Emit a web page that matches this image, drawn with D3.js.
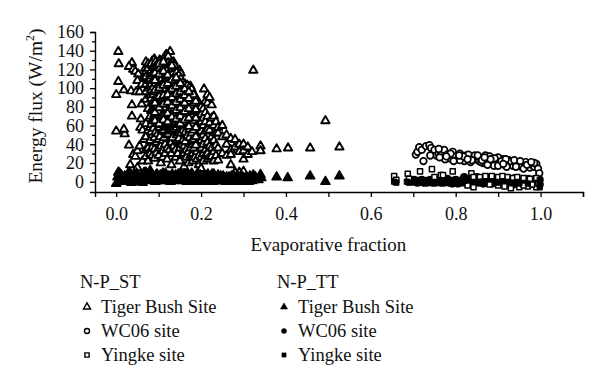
<!DOCTYPE html>
<html>
<head>
<meta charset="utf-8">
<script src="https://cdn.jsdelivr.net/npm/d3@7"></script>
<style>
  html, body { margin: 0; padding: 0; background: #fff; }
  svg { display: block; }
  text { font-family: "Liberation Serif", "Times New Roman", serif; fill: #111; }
</style>
</head>
<body>
<svg id="chart" width="600" height="391"></svg>
<script>
// ---------------- DATA ----------------
const xTicks = [0, 0.2, 0.4, 0.6, 0.8, 1.0];
const xMinorTicks = [0.1, 0.3, 0.5, 0.7, 0.9, 1.1];
const yTicks = [0, 20, 40, 60, 80, 100, 120, 140, 160];
const yMinorTicks = [10, 30, 50, 70, 90, 110, 130, 150];

// N-P_ST, Tiger Bush Site (open triangles) [evaporative fraction, flux]
const tigerBushST = [
[0.005,139],[0.006,126],[0.005,107],[0.000,93],[0.018,98],[0.000,54],[0.020,51],[0.018,56],[0.030,39],[0.033,18],
[0.035,97],[0.047,96],[0.037,127],[0.030,123],[0.040,120],[0.037,82],[0.037,70],[0.055,96],[0.060,83],[0.058,67],
[0.057,58],[0.040,29],[0.045,27],[0.050,33],[0.055,38],[0.065,45],[0.062,55],[0.045,118],[0.052,115],[0.050,108],
[0.060,104],[0.065,111],[0.068,121],[0.070,128],[0.075,126],[0.080,124],[0.085,129],[0.090,131],[0.095,127],[0.100,122],
[0.105,128],[0.110,125],[0.115,134],[0.118,136],[0.127,139],[0.120,130],[0.125,122],[0.130,118],[0.135,128],[0.140,121],
[0.149,119],[0.152,116],[0.145,110],[0.050,15],[0.062,22],[0.066,10],
[0.070,118],[0.070,112],[0.070,104],[0.070,96],[0.070,88],[0.070,62],[0.070,48],[0.070,34],[0.070,27],
[0.075,121],[0.075,108],[0.075,100],[0.075,78],[0.075,55],[0.075,36],[0.075,22],
[0.080,115],[0.080,110],[0.080,102],[0.080,92],[0.080,70],[0.080,58],[0.080,44],[0.080,30],[0.080,12],
[0.085,124],[0.085,117],[0.085,106],[0.085,96],[0.085,84],[0.085,65],[0.085,50],[0.085,37],[0.085,28],
[0.090,120],[0.090,112],[0.090,100],[0.090,90],[0.090,80],[0.090,72],[0.090,60],[0.090,47],[0.090,35],[0.090,25],
[0.095,126],[0.095,114],[0.095,108],[0.095,95],[0.095,86],[0.095,76],[0.095,66],[0.095,42],[0.095,31],
[0.100,118],[0.100,110],[0.100,104],[0.100,98],[0.100,88],[0.100,82],[0.100,70],[0.100,55],[0.100,45],[0.100,36],[0.100,28],
[0.105,124],[0.105,115],[0.105,106],[0.105,92],[0.105,78],[0.105,64],[0.105,50],[0.105,38],[0.105,20],
[0.110,120],[0.110,113],[0.110,100],[0.110,94],[0.110,86],[0.110,74],[0.110,68],[0.110,58],[0.110,44],[0.110,33],[0.110,26],
[0.115,128],[0.115,110],[0.115,104],[0.115,96],[0.115,82],[0.115,76],[0.115,62],[0.115,52],[0.115,40],[0.115,30],
[0.120,125],[0.120,118],[0.120,108],[0.120,98],[0.120,90],[0.120,80],[0.120,70],[0.120,56],[0.120,46],[0.120,36],[0.120,24],
[0.125,131],[0.125,114],[0.125,102],[0.125,94],[0.125,86],[0.125,72],[0.125,64],[0.125,48],[0.125,34],
[0.130,122],[0.130,112],[0.130,106],[0.130,96],[0.130,88],[0.130,78],[0.130,66],[0.130,58],[0.130,42],[0.130,30],[0.130,18],
[0.135,116],[0.135,108],[0.135,100],[0.135,92],[0.135,84],[0.135,74],[0.135,60],[0.135,52],[0.135,38],
[0.140,114],[0.140,104],[0.140,98],[0.140,88],[0.140,80],[0.140,70],[0.140,62],[0.140,46],[0.140,34],[0.140,26],
[0.145,112],[0.145,102],[0.145,94],[0.145,86],[0.145,76],[0.145,66],[0.145,54],[0.145,42],[0.145,30],
[0.150,108],[0.150,98],[0.150,90],[0.150,82],[0.150,74],[0.150,64],[0.150,56],[0.150,44],[0.150,36],[0.150,22],
[0.155,104],[0.155,96],[0.155,88],[0.155,80],[0.155,70],[0.155,60],[0.155,50],[0.155,40],[0.155,28],
[0.160,102],[0.160,94],[0.160,86],[0.160,78],[0.160,68],[0.160,58],[0.160,48],[0.160,38],[0.160,30],[0.160,16],
[0.165,100],[0.165,90],[0.165,82],[0.165,74],[0.165,64],[0.165,54],[0.165,44],[0.165,34],[0.165,26],
[0.170,98],[0.170,88],[0.170,80],[0.170,70],[0.170,62],[0.170,52],[0.170,42],[0.170,32],[0.170,20],
[0.175,102],[0.175,92],[0.175,84],[0.175,76],[0.175,66],[0.175,56],[0.175,46],[0.175,36],[0.175,28],
[0.180,96],[0.180,86],[0.180,78],[0.180,68],[0.180,58],[0.180,48],[0.180,40],[0.180,30],[0.180,22],
[0.185,90],[0.185,82],[0.185,72],[0.185,62],[0.185,54],[0.185,44],[0.185,34],[0.185,26],
[0.190,88],[0.190,80],[0.190,70],[0.190,60],[0.190,50],[0.190,42],[0.190,32],[0.190,24],
[0.195,84],[0.195,76],[0.195,66],[0.195,56],[0.195,46],[0.195,38],[0.195,28],[0.195,18],
[0.200,80],[0.200,72],[0.200,64],[0.200,54],[0.200,44],[0.200,36],[0.200,26],[0.200,14],
[0.205,78],[0.205,68],[0.205,60],[0.205,50],[0.205,40],[0.205,30],[0.205,22],
[0.207,99],[0.210,86],[0.210,74],[0.210,64],[0.210,54],[0.210,46],[0.210,34],[0.210,28],
[0.215,93],[0.215,84],[0.215,70],[0.215,56],[0.215,42],[0.215,30],[0.215,24],
[0.220,90],[0.220,63],[0.220,55],[0.220,38],[0.220,26],
[0.225,82],[0.225,68],[0.225,48],[0.225,36],[0.225,27],
[0.230,70],[0.230,60],[0.230,44],[0.230,32],[0.230,22],
[0.235,64],[0.235,52],[0.235,39],[0.235,28],
[0.240,58],[0.240,52],[0.240,36],[0.240,23],
[0.250,60],[0.250,48],[0.250,30],
[0.260,50],[0.260,40],[0.260,28],
[0.270,46],[0.270,34],[0.270,29],[0.270,18],
[0.280,45],[0.280,37],[0.280,10],
[0.290,40],[0.290,32],[0.290,10],
[0.300,40],[0.300,33],[0.300,24],[0.300,11],
[0.310,37],[0.310,29],[0.320,32],[0.323,119],
[0.340,38],[0.340,33],[0.378,35],[0.405,36],[0.457,36],[0.493,65],[0.526,37],
// dense core
[0.0825,126],[0.0825,119],[0.0825,113],[0.0825,104],[0.0825,98],[0.0825,89],[0.0825,76],[0.0825,61],[0.0825,53],
[0.0875,122],[0.0875,115],[0.0875,108],[0.0875,101],[0.0875,93],[0.0875,86],[0.0875,77],[0.0875,68],[0.0875,57],
[0.0925,128],[0.0925,123],[0.0925,117],[0.0925,105],[0.0925,96],[0.0925,87],[0.0925,78],[0.0925,69],[0.0925,62],[0.0925,53],
[0.0975,124],[0.0975,119],[0.0975,111],[0.0975,101],[0.0975,92],[0.0975,84],[0.0975,73],[0.0975,63],[0.0975,51],
[0.1025,130],[0.1025,121],[0.1025,112],[0.1025,107],[0.1025,96],[0.1025,85],[0.1025,75],[0.1025,67],[0.1025,58],[0.1025,48],
[0.1075,127],[0.1075,118],[0.1075,110],[0.1075,102],[0.1075,96],[0.1075,88],[0.1075,81],[0.1075,71],[0.1075,61],[0.1075,54],
[0.1125,132],[0.1125,123],[0.1125,116],[0.1125,107],[0.1125,99],[0.1125,90],[0.1125,79],[0.1125,71],[0.1125,63],[0.1125,55],[0.1125,47],
[0.1175,130],[0.1175,121],[0.1175,113],[0.1175,106],[0.1175,93],[0.1175,86],[0.1175,79],[0.1175,66],[0.1175,58],[0.1175,50],
[0.1225,134],[0.1225,127],[0.1225,121],[0.1225,111],[0.1225,103],[0.1225,95],[0.1225,84],[0.1225,75],[0.1225,67],[0.1225,60],[0.1225,51],
[0.1275,126],[0.1275,118],[0.1275,110],[0.1275,99],[0.1275,91],[0.1275,82],[0.1275,76],[0.1275,69],[0.1275,61],[0.1275,54],
[0.1325,127],[0.1325,119],[0.1325,115],[0.1325,102],[0.1325,93],[0.1325,84],[0.1325,73],[0.1325,63],[0.1325,55],[0.1325,47],
[0.1375,124],[0.1375,112],[0.1375,104],[0.1375,96],[0.1375,88],[0.1375,78],[0.1375,70],[0.1375,64],[0.1375,56],
[0.1425,117],[0.1425,108],[0.1425,100],[0.1425,91],[0.1425,83],[0.1425,73],[0.1425,66],[0.1425,58],[0.1425,50],
[0.1475,114],[0.1475,106],[0.1475,97],[0.1475,89],[0.1475,80],[0.1475,70],[0.1475,61],[0.1475,52],[0.1475,46],
[0.1525,110],[0.1525,102],[0.1525,94],[0.1525,86],[0.1525,78],[0.1525,68],[0.1525,60],[0.1525,52],
[0.1575,106],[0.1575,98],[0.1575,90],[0.1575,83],[0.1575,73],[0.1575,64],[0.1575,55],[0.1575,45],
[0.1625,104],[0.1625,97],[0.1625,90],[0.1625,81],[0.1625,72],[0.1625,62],[0.1625,53],[0.1625,43],
[0.1675,103],[0.1675,94],[0.1675,86],[0.1675,77],[0.1675,68],[0.1675,59],[0.1675,49],
[0.1725,101],[0.1725,92],[0.1725,84],[0.1725,74],[0.1725,65],[0.1725,56],[0.1725,47],
[0.1775,99],[0.1775,89],[0.1775,81],[0.1775,72],[0.1775,62],[0.1775,52],[0.1775,43],
[0.1825,93],[0.1825,84],[0.1825,75],[0.1825,65],[0.1825,55],[0.1825,45],[0.1825,36],
[0.1875,86],[0.1875,77],[0.1875,68],[0.1875,58],[0.1875,48],[0.1875,39],
[0.0912,116],[0.0912,108],[0.0912,98],[0.0912,84],[0.0912,74],[0.0912,65],
[0.1012,126],[0.1012,115],[0.1012,100],[0.1012,91],[0.1012,79],[0.1012,62],
[0.1112,128],[0.1112,118],[0.1112,103],[0.1112,92],[0.1112,83],[0.1112,66],
[0.1212,114],[0.1212,105],[0.1212,93],[0.1212,85],[0.1212,73],[0.1212,64],
[0.1312,124],[0.1312,109],[0.1312,99],[0.1312,90],[0.1312,81],[0.1312,69],
[0.1412,111],[0.1412,102],[0.1412,94],[0.1412,85],[0.1412,76],[0.1412,67],
[0.1512,105],[0.1512,96],[0.1512,88],[0.1512,79],[0.1512,70],[0.1512,62],
[0.1612,99],[0.1612,92],[0.1612,84],[0.1612,75],[0.1612,66],
[0.1712,96],[0.1712,89],[0.1712,78],[0.1712,68],[0.1712,59]
];

// N-P_TT, Tiger Bush Site (filled triangles)
const tigerBushTT = [
[0.000,-2],[0.003,5],[0.008,9],[0.012,7],[0.015,3],[0.020,6],[0.025,1],[0.028,8],[0.032,4],[0.036,-1],
[0.040,6],[0.044,2],[0.048,9],[0.052,5],[0.055,0],[0.060,7],[0.064,3],[0.068,8],[0.072,1],[0.076,5],
[0.080,9],[0.084,2],[0.088,6],[0.092,0],[0.096,8],[0.100,4],[0.104,7],[0.108,1],[0.112,5],[0.116,9],
[0.120,3],[0.124,6],[0.128,0],[0.132,8],[0.136,4],[0.140,7],[0.144,2],[0.148,5],[0.152,9],[0.156,1],
[0.160,6],[0.164,3],[0.168,8],[0.172,0],[0.176,5],[0.180,7],[0.184,2],[0.188,6],[0.192,9],[0.196,3],
[0.200,5],[0.204,1],[0.208,7],[0.212,4],[0.216,8],[0.220,2],[0.224,6],[0.228,0],[0.232,5],[0.236,3],
[0.240,7],[0.244,1],[0.248,4],[0.252,6],[0.256,2],[0.260,5],[0.264,0],[0.268,3],[0.272,6],[0.276,1],
[0.280,4],[0.284,2],[0.288,5],[0.292,0],[0.296,3],[0.300,1],[0.305,4],[0.310,2],[0.315,6],[0.320,1],
[0.323,7],[0.330,3],[0.340,7.5],[0.342,4],[0.378,5],[0.404,4],[0.457,6],[0.493,0],[0.526,6],
[0.005,10],[0.010,2],[0.018,0],[0.030,10],[0.046,5],[0.058,3],[0.070,10],[0.086,4],[0.098,1],[0.110,9],
[0.126,3],[0.138,1],[0.150,3],[0.166,0],[0.178,9],[0.190,2],[0.206,4],[0.218,0],[0.230,8],[0.246,6],
[0.258,0],[0.270,2],[0.286,0],[0.298,5],[0.312,0],[0.325,2],
[0.022,4],[0.034,8],[0.042,1],[0.050,7],[0.062,-1],[0.066,5],[0.074,3],[0.082,6],[0.090,3],[0.094,7],
[0.102,2],[0.106,5],[0.114,2],[0.118,7],[0.122,1],[0.130,5],[0.134,2],[0.142,4],[0.146,8],[0.154,6],
[0.158,3],[0.162,8],[0.170,4],[0.174,7],[0.182,4],[0.186,0],[0.194,5],[0.198,7],[0.202,3],[0.210,0],
[0.214,6],[0.222,4],[0.226,8],[0.234,1],[0.238,5],[0.242,3],[0.250,1],[0.254,4],[0.262,3],[0.266,5],
[0.274,3],[0.278,6],[0.282,1],[0.290,3],[0.294,6],[0.302,3],[0.308,1],[0.318,3],[0.328,5],[0.335,2]
];

// N-P_ST, WC06 site (open circles)
const wc06ST = [
[0.706,29],[0.710,32],[0.714,37],[0.720,34],[0.724,22],[0.730,38],[0.738,39],[0.742,36],[0.748,31],[0.750,34],
[0.755,28],[0.760,30],[0.765,32],[0.770,26],[0.773,34],[0.780,29],[0.785,25],[0.790,28],[0.793,32],[0.800,27],
[0.805,24],[0.810,30],[0.815,26],[0.820,22],[0.825,28],[0.830,25],[0.835,21],[0.840,27],[0.845,24],[0.850,26],
[0.855,22],[0.860,25],[0.865,20],[0.870,24],[0.875,27],[0.880,21],[0.885,25],[0.890,22],[0.895,19],[0.900,23],
[0.905,20],[0.910,24],[0.915,18],[0.920,21],[0.925,23],[0.930,19],[0.935,17],[0.940,21],[0.945,18],[0.950,20],
[0.955,16],[0.960,19],[0.965,21],[0.970,17],[0.975,15],[0.980,18],[0.985,16],[0.990,19],[0.994,14],[0.997,9],
[0.830,29],[0.845,28],[0.870,28],[0.880,27],[0.900,26],[0.860,21],[0.810,23],[0.795,22],[0.775,24],[0.760,35],
[0.740,28],[0.930,22],[0.950,17],[0.960,14],[0.920,16],[0.890,17],[0.875,18],[0.900,17],[0.985,20],
[0.818,27],[0.838,23],[0.852,28],[0.862,23],[0.892,25],[0.908,22],[0.918,24],[0.938,23],[0.952,22],[0.968,18],
[0.978,21],[0.942,16],[0.912,19],[0.882,24],[0.868,26],[0.828,24],[0.808,28],[0.788,30],[0.778,27],[0.762,26]
];

// N-P_TT, WC06 site (filled circles)
const wc06TT = [
[0.700,0],[0.705,1],[0.710,-1],[0.715,0],[0.720,2],[0.725,-1],[0.730,1],[0.735,0],[0.740,2],[0.745,-1],
[0.750,1],[0.755,0],[0.760,2],[0.765,-1],[0.770,1],[0.775,0],[0.780,3],[0.785,-1],[0.790,1],[0.795,0],
[0.800,2],[0.805,-2],[0.810,1],[0.815,0],[0.820,3],[0.825,-1],[0.830,1],[0.835,-2],[0.840,2],[0.845,0],
[0.850,3],[0.855,-1],[0.860,1],[0.865,-2],[0.870,2],[0.875,0],[0.880,3],[0.885,-2],[0.890,1],[0.895,-1],
[0.900,2],[0.905,-2],[0.910,0],[0.915,-3],[0.920,1],[0.925,-1],[0.930,2],[0.935,-3],[0.940,0],[0.945,-2],
[0.950,1],[0.955,-3],[0.960,0],[0.965,-2],[0.970,1],[0.975,-3],[0.980,0],[0.985,-2],[0.990,1],[0.995,-1],
[0.998,-3],[0.998,2],[0.820,5],[0.850,5],[0.880,5],[0.910,4],[0.940,4],[0.970,3],
[0.702,2],[0.712,1],[0.722,0],[0.732,-1],[0.742,0],[0.752,-1],[0.762,0],[0.772,-1],[0.782,1],[0.792,-2],
[0.802,0],[0.812,-1],[0.822,-1],[0.832,3],[0.842,-2],[0.852,1],[0.862,3],[0.872,-1],[0.882,1],[0.892,3],
[0.902,0],[0.912,2],[0.922,-2],[0.932,0],[0.942,2],[0.952,-1],[0.962,2],[0.972,-1],[0.982,2],[0.992,-3]
];

// N-P_ST, Yingke site (open squares)
const yingkeST = [
[0.655,6],[0.687,8.5],[0.716,11],[0.744,13.5],[0.793,11],[0.750,5],[0.765,7],[0.770,7],[0.837,9],[0.842,5],
[0.857,5],[0.922,5],[0.828,-4],[0.842,-6],[0.950,-6],[0.970,-5],[0.990,-6],[0.870,6],[0.885,6],[0.900,5],
[0.910,6],[0.935,4],[0.945,5],[0.960,4],[0.975,3],[0.990,4],[0.880,-3],[0.900,-4],[0.915,-5],[0.930,-7],
[0.960,-4],[0.980,-3],[0.995,-2],[0.660,2],[0.690,3]
];

// N-P_TT, Yingke site (filled squares)
const yingkeTT = [
[0.655,0],[0.660,-1],[0.685,0],[0.690,-1],[0.800,2],[0.820,1],[0.860,0],[0.900,-1],[0.950,-2],[0.998,-6],
[0.998,-2],[0.998,2],[0.970,-2],[0.930,-1]
];

const legendTitles = ["N-P_ST", "N-P_TT"];
const legendLabels = ["Tiger Bush Site", "WC06 site", "Yingke site"];

// ---------------- DRAWING ----------------
const svg = d3.select("#chart");
const x = d3.scaleLinear().domain([-0.05, 1.1]).range([95, 583]);
const y = d3.scaleLinear().domain([-11, 160]).range([192, 32]);

const plot = svg.append("g");

function drawSeries(data, symType, size, filled, sw) {
  const sym = d3.symbol().type(symType).size(size);
  plot.append("g").selectAll("path").data(data).join("path")
    .attr("transform", d => `translate(${x(d[0])},${y(d[1])})`)
    .attr("d", sym)
    .attr("fill", filled ? "#000" : "#fff")
    .attr("stroke", "#000")
    .attr("stroke-linejoin", "round")
    .attr("stroke-width", sw);
}

drawSeries(tigerBushST, d3.symbolTriangle, 30, false, 1.9);
drawSeries(tigerBushTT, d3.symbolTriangle, 36, true, 1.5);
drawSeries(wc06ST, d3.symbolCircle, 34, false, 1.7);
drawSeries(wc06TT, d3.symbolCircle, 36, true, 1.4);
drawSeries(yingkeST, d3.symbolSquare, 26, false, 1.5);
drawSeries(yingkeTT, d3.symbolSquare, 28, true, 1.0);

// Axes
const xAxis = svg.append("g").attr("transform", "translate(0,192)")
  .call(d3.axisBottom(x).tickValues(xTicks).tickFormat(d3.format(".1f")).tickSizeOuter(0).tickSize(5).tickPadding(10));
const xMinor = svg.append("g").attr("transform", "translate(0,192)")
  .call(d3.axisBottom(x).tickValues(xMinorTicks).tickFormat("").tickSizeOuter(0).tickSize(5));
const yAxis = svg.append("g").attr("transform", "translate(95,0)")
  .call(d3.axisLeft(y).tickValues(yTicks).tickSizeOuter(0).tickSize(5).tickPadding(6));
const yMinor = svg.append("g").attr("transform", "translate(95,0)")
  .call(d3.axisLeft(y).tickValues(yMinorTicks).tickFormat("").tickSizeOuter(0).tickSize(3));

[xAxis, xMinor, yAxis, yMinor].forEach(g => {
  g.selectAll(".domain").attr("stroke", "#000").attr("stroke-width", 1.4);
  g.selectAll(".tick line").attr("stroke", "#000").attr("stroke-width", 1.3);
  g.selectAll("text").attr("font-family", "Liberation Serif").attr("font-size", 18).attr("fill", "#111");
});
xMinor.select(".domain").remove();
yMinor.select(".domain").remove();

// Axis titles
svg.append("text")
  .attr("x", x(0.5)).attr("y", 251)
  .attr("text-anchor", "middle").attr("font-size", 19)
  .text("Evaporative fraction");

const yl = svg.append("text")
  .attr("transform", "translate(42,106) rotate(-90)")
  .attr("text-anchor", "middle").attr("font-size", 19.5);
yl.append("tspan").text("Energy flux (W/m");
yl.append("tspan").attr("dy", -8).attr("font-size", 12).text("2");
yl.append("tspan").attr("dy", 8).text(")");

// Legend
const legendCols = [80, 277];
const legendRowsY = [313, 337, 361];
const symTypes = [d3.symbolTriangle, d3.symbolCircle, d3.symbolSquare];
const legendSizes = [22, 20, 18];
legendTitles.forEach((t, ci) => {
  const cx = legendCols[ci];
  svg.append("text").attr("x", cx).attr("y", 288).attr("font-size", 18.5).text(t);
  legendLabels.forEach((lab, ri) => {
    svg.append("path")
      .attr("transform", `translate(${cx + 7},${legendRowsY[ri] - 6})`)
      .attr("d", d3.symbol().type(symTypes[ri]).size(legendSizes[ri]))
      .attr("fill", ci === 0 ? "#fff" : "#000")
      .attr("stroke", "#000").attr("stroke-width", ci === 0 ? 1.4 : 0.5);
    svg.append("text").attr("x", cx + 21).attr("y", legendRowsY[ri]).attr("font-size", 18.5).text(lab);
  });
});
</script>
</body>
</html>
